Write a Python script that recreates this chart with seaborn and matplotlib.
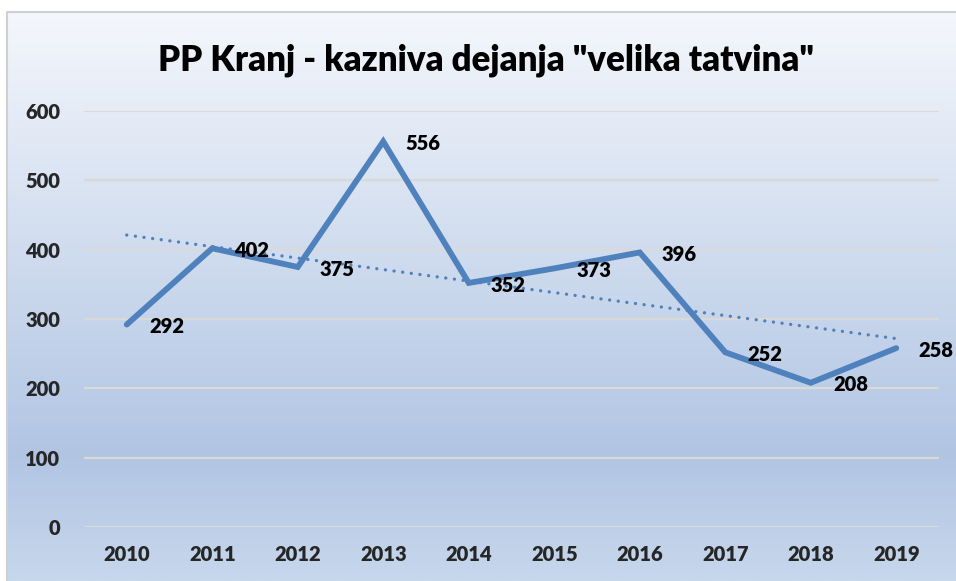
import matplotlib
matplotlib.use("Agg")
import matplotlib.pyplot as plt
import numpy as np
import pandas as pd
import seaborn as sns
from matplotlib.colors import LinearSegmentedColormap

# podatki
years = ["2010", "2011", "2012", "2013", "2014", "2015", "2016", "2017", "2018", "2019"]
cases = [292, 402, 375, 556, 352, 373, 396, 252, 208, 258]
y_ticks = [0, 100, 200, 300, 400, 500, 600]
title = 'PP Kranj - kazniva dejanja "velika tatvina"'

df = pd.DataFrame({"year": years, "value": cases})

sns.set_theme(style="white")
plt.rcParams["font.family"] = ["Lato", "DejaVu Sans"]

W, H = 956, 581
fig = plt.figure(figsize=(W / 100, H / 100), dpi=100)

# ozadje z gradientom (kot v Excelu)
bg = fig.add_axes([0, 0, 1, 1], zorder=0)
cmap = LinearSegmentedColormap.from_list(
    "bg", [(0.0, "#F4F7FC"), (0.78, "#B1C5E3"), (1.0, "#C7D7EC")])
grad = np.linspace(0, 1, 256).reshape(-1, 1)
x0, y0 = 7 / W, 1 - 12 / H
bg.imshow(grad, cmap=cmap, aspect="auto", extent=[x0, 1, 0, y0], origin="upper")
bg.plot([x0, x0, 1], [0, y0, y0], color="#D0D0D0", lw=1.5)
bg.set_xlim(0, 1)
bg.set_ylim(0, 1)
bg.axis("off")

ax = fig.add_axes([84 / W, 1 - 527 / H, (939 - 84) / W, (527 - 111) / H], zorder=1)
ax.patch.set_alpha(0)

sns.lineplot(data=df, x="year", y="value", ax=ax, color="#4F81BD", lw=4.2, sort=False,
             solid_joinstyle="miter", zorder=3)

# linearni trend
pos = np.arange(len(years))
k, n = np.polyfit(pos, cases, 1)
ax.plot(pos, k * pos + n, color="#4F81BD", lw=2.4, linestyle=(0, (0.01, 2.6)),
        dash_capstyle="round", zorder=2)

for i, v in enumerate(cases):
    ax.annotate(str(v), (i, v), xytext=(16, -1.5), textcoords="offset points",
                ha="left", va="center", fontsize=14.5, fontweight="heavy", color="black",
                zorder=4)

ax.set_xlim(-0.5, len(years) - 0.5)
ax.set_ylim(0, 600)
ax.set_yticks(y_ticks)
ax.yaxis.grid(True, color="#D9D9D9", lw=1.6)
ax.set_axisbelow(True)
for s in ax.spines.values():
    s.set_visible(False)
ax.tick_params(axis="both", length=0, labelsize=14.5)
ax.tick_params(axis="y", pad=17)
ax.tick_params(axis="x", pad=13)
for lab in ax.get_xticklabels() + ax.get_yticklabels():
    lab.set_fontweight("heavy")
ax.set_xlabel("")
ax.set_ylabel("")

fig.text(486 / W, 1 - 60 / H, title, ha="center", va="center",
         fontsize=25, fontweight="heavy", color="black")

fig.savefig("out.png", dpi=100)
